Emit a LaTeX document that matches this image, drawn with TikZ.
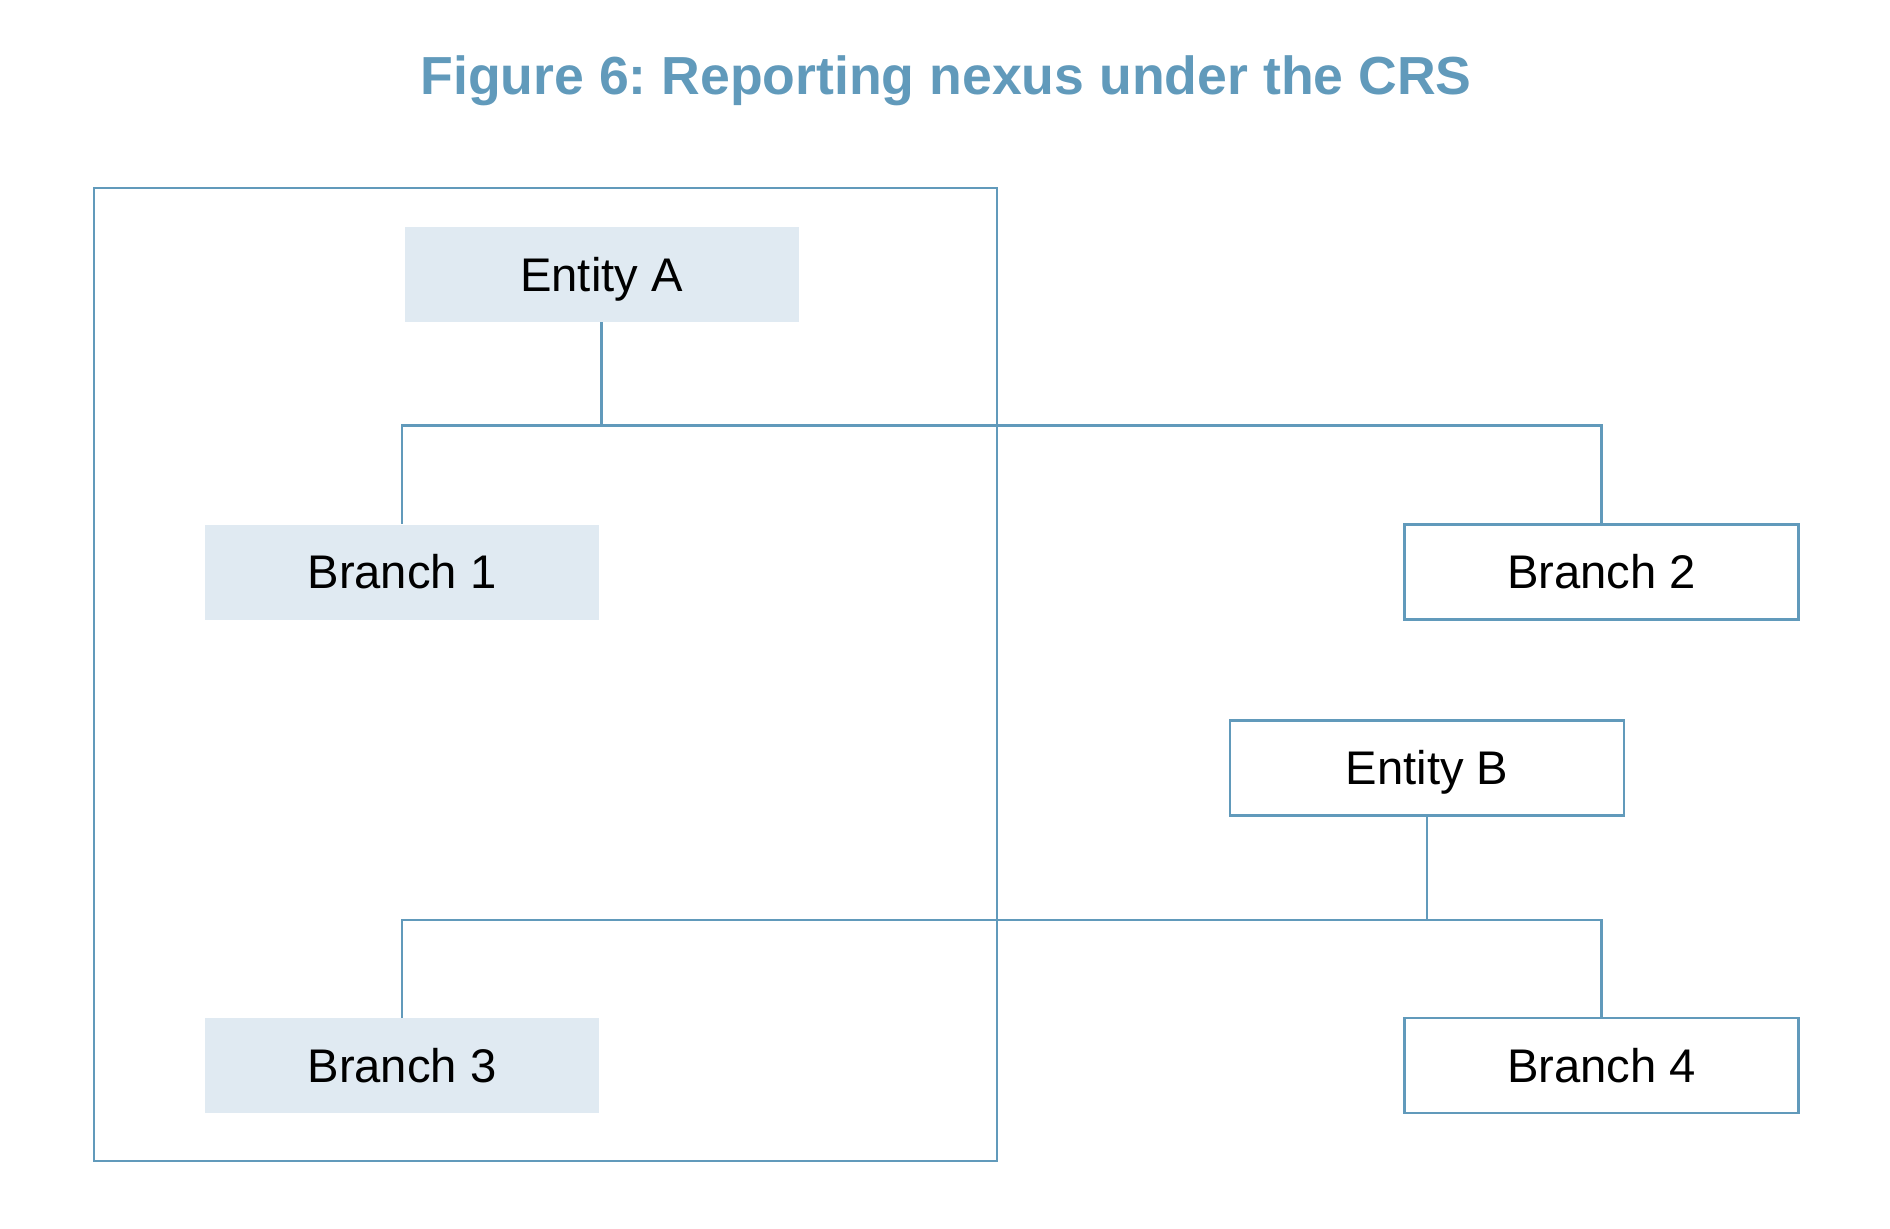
\documentclass[tikz,border=0pt]{standalone}
\usepackage{fontspec}
\setmainfont{Liberation Sans}
\usetikzlibrary{positioning,calc}
\definecolor{crsblue}{RGB}{97,154,187}
\definecolor{crsfill}{RGB}{224,234,242}
\frenchspacing

\begin{document}
\begin{tikzpicture}[x=0.5pt,y=-0.5pt,font=\fontsize{23.6}{28}\selectfont,
  bx/.style={align=center,minimum width=197pt,minimum height=47.5pt,inner sep=0pt,text height=16.9pt,text depth=0pt},
  eb/.style={bx,fill=crsfill},
  ob/.style={bx,draw=crsblue,line width=1.2pt},
  ln/.style={draw=crsblue,line width=1.2pt}]
  \useasboundingbox (0,0) rectangle (1890,1228);
  % titre
  \node[anchor=base,text=crsblue,font=\fontsize{26.8}{32}\selectfont\bfseries] (title) at (946,94) {Figure 6: Reporting nexus under the CRS};
  % cadre
  \node[ln,minimum width=451.5pt,minimum height=486.5pt,inner sep=0pt] (grp) at (545.5,674.5) {};
  % entites et succursales
  \node[eb] (ea) at (601.5,274.5) {Entity A};
  \node[eb] (b1) at (402,572) {Branch 1};
  \node[ob] (b2) at (1601.5,572) {Branch 2};
  \node[ob] (eb) at (1427,768) {Entity B};
  \node[eb] (b3) at (402,1065.5) {Branch 3};
  \node[ob] (b4) at (1601.5,1065.5) {Branch 4};
  % liaisons
  \coordinate (busa) at (ea.south |- 0,425.5);
  \coordinate (busb) at (eb.south |- 0,920);
  \draw[ln] (ea.south) -- (busa);
  \draw[ln] (b1.north) |- (busa) -| (b2.north);
  \draw[ln] (eb.south) -- (busb);
  \draw[ln] (b3.north) |- (busb) -| (b4.north);
\end{tikzpicture}
\end{document}
